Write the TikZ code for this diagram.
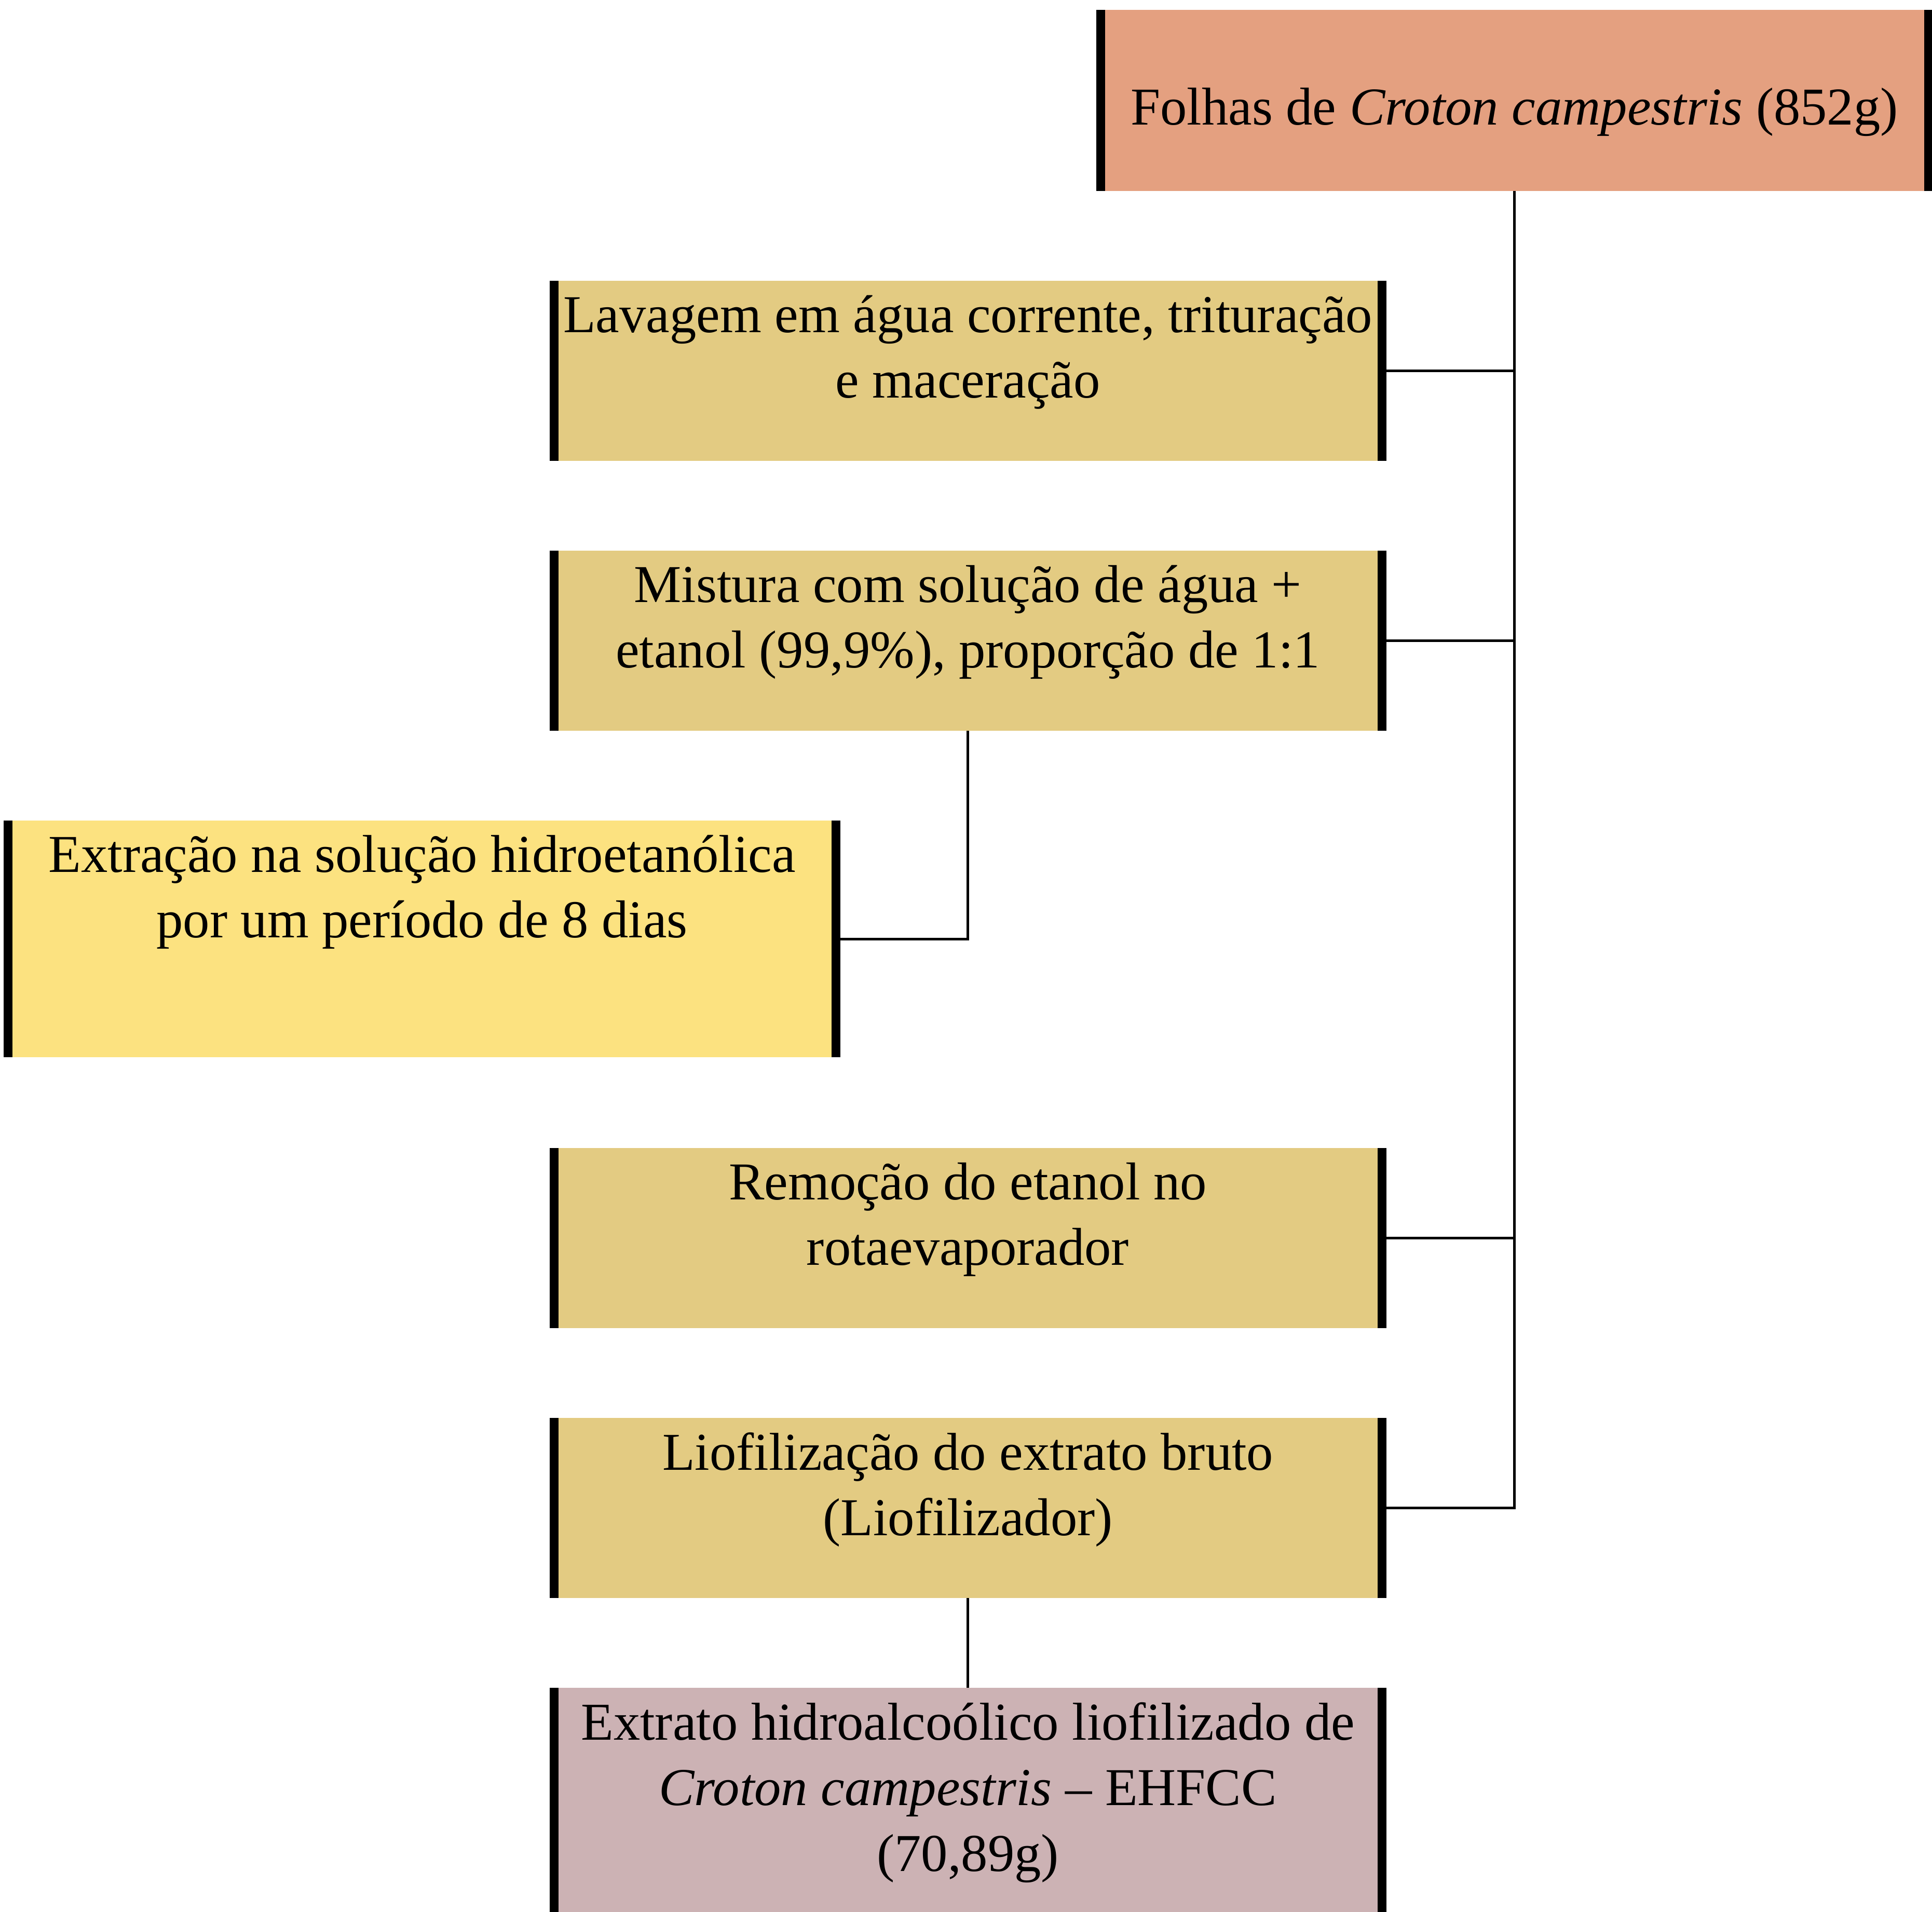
\documentclass[tikz,border=0pt]{standalone}
\usepackage{fontspec}
\setmainfont{Liberation Serif}
\usetikzlibrary{positioning}
\definecolor{salmon}{HTML}{E4A080}
\definecolor{sand}{HTML}{E3CB82}
\definecolor{lemon}{HTML}{FCE280}
\definecolor{mauve}{HTML}{CCB2B4}
\tikzset{
stepbox/.style={fill=sand,
  inner sep=0pt,
    outer sep=0pt,
    font=\fontsize{29.2}{36}\selectfont},
bar/.style={line width=0.17cm},
link/.style={line width=0.05cm},
}
\newcommand{\steptext}[3][0.28cm]{\parbox[c][#2][t]{15.95cm}{\centering\vspace*{#1}#3}}

\begin{document}
\begin{tikzpicture}
  \useasboundingbox (0,0) rectangle (37.22,-36.83);

  % Nodes
  \node [stepbox, fill=salmon, anchor=north] (leaves) at (29.175,-0.19) {\steptext[1.5cm]{3.49cm}{Folhas de \textit{Croton campestris} (852g)}};
  \node [stepbox, below=1.73cm of leaves, xshift=-10.53cm] (wash) {\steptext{3.47cm}{Lavagem em água corrente, trituração\\e maceração}};
  \node [stepbox, below=1.73cm of wash] (mix) {\steptext{3.47cm}{Mistura com solução de água +\\etanol (99,9\%), proporção de 1:1}};
  \node [stepbox, fill=lemon, below=1.73cm of mix, xshift=-10.515cm] (soak) {\steptext{4.56cm}{Extração na solução hidroetanólica\\por um período de 8 dias}};
  \node [stepbox, below=1.75cm of soak, xshift=10.515cm] (evap) {\steptext{3.47cm}{Remoção do etanol no\\rotaevaporador}};
  \node [stepbox, below=1.73cm of evap] (dry) {\steptext{3.47cm}{Liofilização do extrato bruto\\(Liofilizador)}};
  \node [stepbox, fill=mauve, below=1.73cm of dry] (extract) {\steptext{4.56cm}{Extrato hidroalcoólico liofilizado de\\\textit{Croton campestris} – EHFCC\\(70,89g)}};

  % side bars
  \foreach \n in {leaves,wash,mix,soak,evap,dry,extract}
    \draw [bar] (\n.north west) -- (\n.south west) (\n.north east) -- (\n.south east);

  % Edges with right-angle corners
  \draw [link] (leaves.south) |- (dry.east);
  \foreach \n in {wash,mix,evap}
    \draw [link] (\n.east) -- (\n.east -| leaves.south);
  \draw [link] (mix.south) |- (soak.east);
  \draw [link] (dry.south) -- (extract.north);
\end{tikzpicture}
\end{document}
